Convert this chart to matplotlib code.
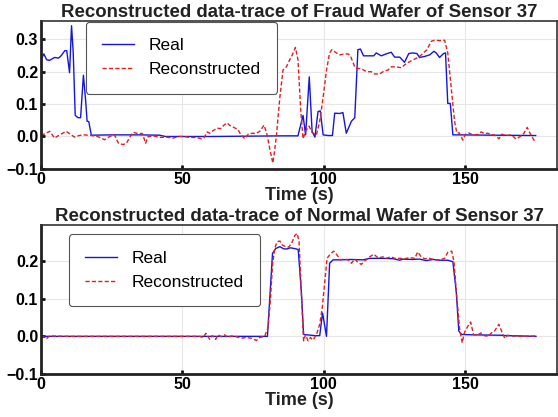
"""Real vs reconstructed sensor traces for a fraud and a normal wafer."""

import matplotlib
matplotlib.use("Agg")
import matplotlib.pyplot as plt

# Fraud wafer, sensor 37 (time in s, value)
fraud_real_t = [0, 1, 2, 3, 4.8, 6.2, 7.2, 8.4, 9.1, 10.1, 10.8, 11.4, 12.1, 13.1, 14.0,
                15.0, 15.8, 16.3, 16.9, 17.8, 25, 35, 42, 44, 60, 85.6, 90.9, 92.7, 93.6,
                94.9, 95.9, 96.9, 98.0, 98.8, 99.8, 101.5, 103.1, 103.9, 105.7, 106.8,
                108.0, 109.8, 111.0, 112.1, 113.0, 114.1, 116.3, 117.7, 118.6, 120.4,
                122.1, 123.9, 125.1, 126.9, 128.6, 130.1, 131.5, 133.0, 133.9, 135.7,
                137.5, 139.0, 139.8, 141.0, 142.4, 143.1, 143.9, 144.8, 145.7, 148, 160, 175]
fraud_real_v = [0.237, 0.255, 0.237, 0.235, 0.244, 0.242, 0.25, 0.265, 0.265, 0.197, 0.342,
                0.258, 0.065, 0.058, 0.058, 0.189, 0.11, 0.047, 0.046, 0.004, 0.005, 0.005,
                0.004, 0.0, 0.0, 0.002, 0.002, 0.065, 0.005, 0.184, 0.016, -0.002, 0.077,
                0.079, 0.005, 0.003, 0.003, 0.072, 0.071, 0.074, 0.01, 0.047, 0.058, 0.268,
                0.27, 0.249, 0.249, 0.249, 0.258, 0.249, 0.255, 0.26, 0.245, 0.245, 0.229,
                0.256, 0.258, 0.256, 0.244, 0.247, 0.252, 0.263, 0.258, 0.244, 0.256, 0.258,
                0.102, 0.102, 0.005, 0.005, 0.004, 0.003]

fraud_rec_t = [0, 1, 3.1, 4.8, 6.2, 8.9, 10.7, 11.9, 13.4, 15.4, 17.8, 20, 22.5, 24.3, 26,
               27.4, 29, 30.2, 31.9, 32.6, 33.8, 35.9, 37, 37.9, 40.2, 42, 44.5, 46.8, 48.5,
               50.4, 52.7, 55, 56.8, 57.6, 58.8, 59.7, 60.9, 62.3, 63.5, 64.7, 65.8, 66.8,
               68.2, 69.7, 70.7, 72.1, 73.3, 74.8, 76.0, 77.4, 78.9, 80.0, 80.9, 82.0, 82.7,
               83.3, 84.5, 85.6, 86.8, 88.0, 88.9, 90.0, 90.9, 91.9, 92.7, 93.6, 94.8, 96.0,
               97.4, 98.6, 99.8, 101.0, 102.1, 102.9, 104.5, 105.7, 106.8, 108.6, 109.4,
               111.0, 111.8, 113.3, 114.5, 115.7, 116.8, 118.0, 119.8, 121.0, 122.7, 123.9,
               125.7, 127.5, 128.6, 130.4, 132.2, 133.9, 135.3, 136.5, 138.1, 139.2, 141.0,
               142.8, 143.9, 145.1, 146.3, 147.1, 148.0, 149.2, 150.2, 151.3, 152.8, 154.5,
               155.7, 156.9, 158.1, 159.3, 160.4, 162.0, 163.0, 164.6, 166.3, 168.1, 169.5,
               170.7, 172.0, 173.1, 174.6]
fraud_rec_v = [0.003, 0.007, 0.016, -0.005, 0.003, 0.016, 0.005, -0.002, 0.003, 0.005, 0.003,
               0.0, -0.01, 0.0, 0.005, -0.021, -0.025, -0.021, 0.005, 0.013, 0.01, 0.009,
               -0.021, 0.0, 0.001, -0.003, -0.002, -0.005, 0.0, 0.0, -0.003, -0.003, -0.007,
               -0.005, 0.014, 0.01, 0.018, 0.026, 0.024, 0.035, 0.042, 0.034, 0.028, 0.021,
               0.005, -0.007, 0.007, 0.01, 0.009, 0.016, 0.035, 0.005, -0.037, -0.082, -0.04,
               0.005, 0.121, 0.205, 0.215, 0.237, 0.252, 0.275, 0.237, 0.079, -0.007, 0.016,
               0.032, 0.011, 0.005, 0.047, 0.121, 0.205, 0.258, 0.268, 0.258, 0.252, 0.254,
               0.255, 0.25, 0.215, 0.21, 0.21, 0.203, 0.2, 0.2, 0.193, 0.193, 0.2, 0.205,
               0.215, 0.215, 0.212, 0.221, 0.231, 0.239, 0.247, 0.258, 0.268, 0.294, 0.297,
               0.296, 0.297, 0.258, 0.152, 0.047, 0.011, 0.011, -0.011, 0.007, 0.011, 0.005,
               0.006, 0.014, 0.009, 0.01, 0.005, 0.005, -0.007, 0.007, 0.003, 0.005, -0.008,
               0.0, 0.008, 0.028, 0.008, -0.014]

# Normal wafer, sensor 37
normal_real_t = [0, 1, 80.1, 81.9, 83.0, 84.5, 85.9, 87.0, 88.2, 90.3, 91.0, 92.1, 92.9,
                 96.8, 98.6, 99.6, 101.0, 102.1, 103.3, 105.7, 109.2, 113.9, 116.3, 121.0,
                 124.6, 126.9, 128.0, 131.5, 133.9, 136.3, 138.7, 141.0, 143.9, 145.7, 146.9,
                 147.8, 148.8, 153.0, 162.4, 164.8, 175.1]
normal_real_v = [0.003, 0.0, 0.0, 0.22, 0.233, 0.238, 0.232, 0.232, 0.235, 0.232, 0.23,
                 0.119, 0.005, 0.002, 0.002, 0.062, 0.0, 0.194, 0.203, 0.203, 0.204, 0.203,
                 0.207, 0.207, 0.206, 0.202, 0.205, 0.204, 0.205, 0.201, 0.204, 0.202, 0.202,
                 0.198, 0.119, 0.014, 0.005, 0.004, 0.003, 0.002, 0.0]

normal_rec_t = [0, 2, 3, 10, 56, 57.4, 58.3, 59.7, 60.6, 61.8, 62.6, 63.8, 65.0, 66.1, 67.3,
                69.1, 70.9, 72.6, 74.4, 76.2, 77.4, 79.1, 80.3, 81.2, 81.9, 82.7, 83.5, 84.5,
                85.4, 86.6, 87.7, 88.9, 89.8, 90.6, 91.3, 91.8, 92.5, 92.9, 93.6, 94.5, 95.3,
                96.2, 97.4, 98.6, 99.5, 100.4, 101.2, 102.1, 103.5, 104.7, 105.9, 107.1,
                108.6, 109.8, 111.0, 112.2, 113.3, 114.5, 116.3, 117.7, 119.3, 121.0, 122.2,
                123.7, 125.2, 126.9, 128.7, 130.4, 132.2, 133.3, 134.5, 135.7, 137.5, 139.2,
                141.0, 142.8, 143.9, 145.3, 146.1, 146.9, 148.1, 149.0, 149.8, 151.0, 152.0,
                153.0, 154.2, 155.7, 156.9, 158.1, 159.3, 160.4, 162.0, 163.2, 164.1, 165.1,
                166.9, 170.4, 175.1]
normal_rec_v = [0.003, -0.006, 0.001, 0.0, 0.0, -0.003, 0.008, -0.008, 0.002, -0.008, 0.004,
                -0.001, 0.004, -0.003, 0.001, -0.001, -0.005, -0.003, -0.005, -0.011, -0.003,
                0.0, 0.023, 0.102, 0.19, 0.233, 0.251, 0.253, 0.242, 0.238, 0.237, 0.251,
                0.268, 0.273, 0.251, 0.163, 0.049, -0.012, 0.004, -0.012, -0.003, -0.01,
                0.004, 0.032, 0.076, 0.146, 0.207, 0.216, 0.226, 0.216, 0.203, 0.205, 0.203,
                0.194, 0.205, 0.196, 0.191, 0.2, 0.211, 0.218, 0.208, 0.211, 0.207, 0.211,
                0.207, 0.207, 0.206, 0.209, 0.207, 0.224, 0.211, 0.206, 0.207, 0.203, 0.203,
                0.207, 0.223, 0.226, 0.198, 0.12, 0.02, -0.017, 0.01, 0.027, 0.038, 0.005,
                0.003, 0.009, 0.002, 0.0, 0.009, 0.014, 0.032, 0.009, -0.005, 0.003, 0.001,
                0.0, 0.001]

panels = [
    ("Reconstructed data-trace of Fraud Wafer of Sensor 37",
     fraud_real_t, fraud_real_v, fraud_rec_t, fraud_rec_v, (-0.1, 0.357), [-0.1, 0.0, 0.1, 0.2, 0.3]),
    ("Reconstructed data-trace of Normal Wafer of Sensor 37",
     normal_real_t, normal_real_v, normal_rec_t, normal_rec_v, (-0.1, 0.295), [-0.1, 0.0, 0.1, 0.2]),
]

plt.rcParams['font.family'] = ['Liberation Sans', 'DejaVu Sans']

fig = plt.figure(figsize=(5.58, 4.17), dpi=100)
# axes boxes in figure fractions: [left, bottom, width, height]
boxes = [[0.0735, 0.595, 0.925, 0.355], [0.0735, 0.103, 0.925, 0.357]]
legend_anchor = [(0.087, 0.995), (0.054, 0.94)]

for i, (title, rt, rv, ct, cv, ylim, yticks) in enumerate(panels):
    ax = fig.add_axes(boxes[i])
    ax.plot(rt, rv, color='#1515e0', lw=1.0, label='Real')
    ax.plot(ct, cv, color='#e02020', lw=1.0, ls='--', dashes=(3, 1.6), label='Reconstructed')

    ax.set_xlim(0, 182.6)
    ax.set_ylim(*ylim)
    ax.set_xticks([0, 50, 100, 150])
    ax.set_yticks(yticks)
    ax.grid(True, color='#e6e6e6', lw=0.8)
    ax.set_axisbelow(True)

    for side in ['left', 'bottom']:
        ax.spines[side].set_linewidth(2.0)
        ax.spines[side].set_color('#222222')
    for side in ['top', 'right']:
        ax.spines[side].set_linewidth(1.2)
        ax.spines[side].set_color('#333333')

    ax.tick_params(direction='in', length=3, width=2, color='#111111', pad=2,
                   labelsize=11.5, top=False, right=False)
    for lab in ax.get_xticklabels() + ax.get_yticklabels():
        lab.set_fontweight('bold')

    ax.set_title(title, fontsize=13.4, fontweight='bold', color='#222222', pad=3)
    ax.set_xlabel('Time (s)', fontsize=13, fontweight='bold', color='#222222', labelpad=0)

    leg = ax.legend(loc='upper left', bbox_to_anchor=legend_anchor[i], borderaxespad=0,
                    fontsize=12.5, handlelength=1.8, labelspacing=0.5, borderpad=0.95,
                    handletextpad=0.85, fancybox=True, framealpha=1.0, edgecolor='#555555')
    leg.get_frame().set_linewidth(0.8)

fig.savefig('out.png', dpi=100)
